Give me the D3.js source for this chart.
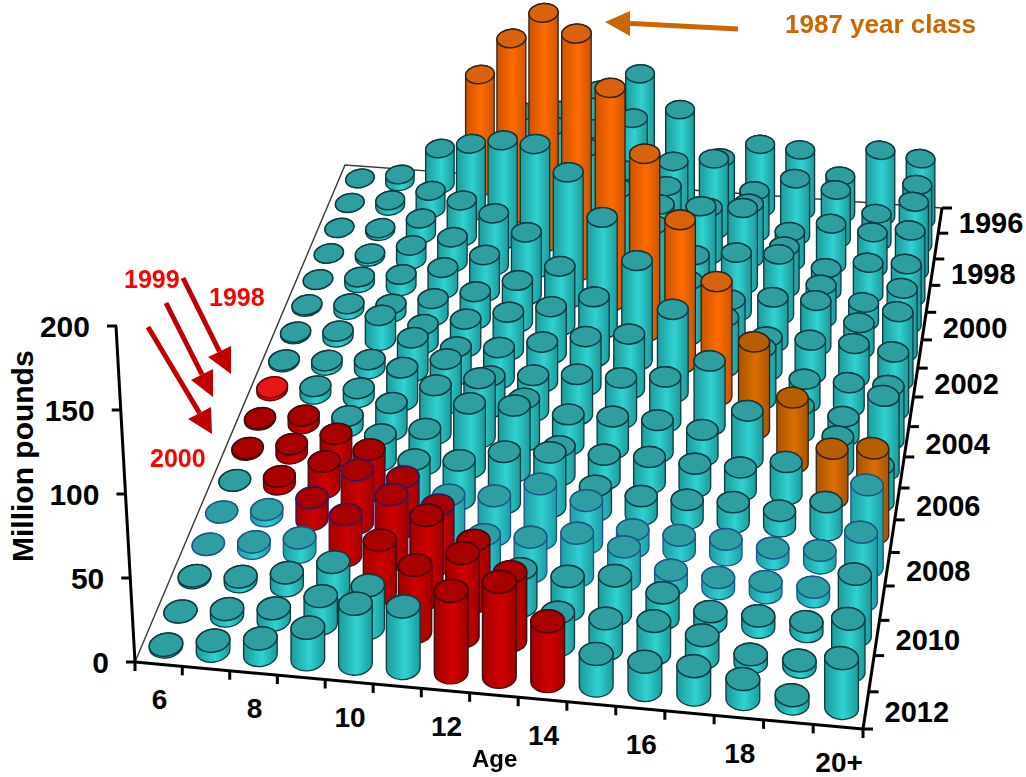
<!DOCTYPE html>
<html><head><meta charset="utf-8">
<script src="https://cdnjs.cloudflare.com/ajax/libs/d3/7.8.5/d3.min.js"></script>
<style>html,body{margin:0;padding:0;background:#fff}svg{display:block}text{font-family:"Liberation Sans",Arial,sans-serif;font-weight:700}</style>
</head><body><svg id="c" width="1026" height="777"></svg>
<script>
const ages=[6,7,8,9,10,11,12,13,14,15,16,17,18,19,20];
const years=d3.range(1996,2013);
const ageTicks=[6,8,10,12,14,16,18,20];
const yearTicks=[1996,1998,2000,2002,2004,2006,2008,2010,2012];
const valueTicks=[0,50,100,150,200];
const v1996=[0,5,26,82,57,60,77,91,67,34,46,44,27,48,44];
const v1997=[0,4,13,49,127,66,66,76,47,51,30,41,35,20,43];
const v1998=[0,2,11,26,71,164,70,56,47,34,39,21,29,25,49];
const v1999=[0,2,10,18,37,88,168,61,52,53,54,29,16,22,47];
const v2000=[0,4,8,15,26,44,88,149,56,37,41,42,23,13,42];
const v2001=[1,4,6,12,19,29,41,77,123,38,27,31,31,18,44];
const v2002=[1,4,17,13,19,26,32,41,68,98,34,23,23,23,47];
const v2003=[1,3,6,23,19,21,27,33,37,56,77,35,16,16,39];
const v2004=[2,5,6,22,30,21,24,27,27,30,43,58,18,13,36];
const v2005=[1,5,7,18,32,39,28,20,21,21,17,32,43,20,49];
const v2006=[1,6,15,17,23,42,43,19,16,17,15,15,21,32,24];
const v2007=[0,5,17,27,23,25,33,35,16,12,12,13,10,18,55];
const v2008=[0,4,14,34,32,23,25,35,27,11,10,10,7,8,52];
const v2009=[0,4,9,26,41,37,21,22,27,21,9,7,7,6,43];
const v2010=[1,3,8,17,33,51,38,23,21,24,16,7,7,6,38];
const v2011=[0,4,7,17,26,41,51,42,20,19,20,14,5,4,32];
const v2012=[1,6,10,19,36,37,49,57,36,19,17,17,12,5,30];
const table=[v1996,v1997,v1998,v1999,v2000,v2001,v2002,v2003,v2004,v2005,v2006,v2007,v2008,v2009,v2010,v2011,v2012];
const goldClass=1987, redClasses=[1998,1999,2000], blueYears=[2008,2009];

const svg=d3.select('#c');
const defs=svg.append('defs');
defs.append('filter').attr('id','soft').append('feGaussianBlur').attr('stdDeviation',0.45);
const palettes={
 teal:{e:'#1d9a9b',m:'#31d2d2',top:'#2f9ea0',s:'#0e3a40'},
 tealB:{e:'#1f9ca2',m:'#31cfd2',top:'#2f9ea2',s:'#1b5488'},
 red:{e:'#a00000',m:'#cf0000',top:'#a80000',s:'#3a0a10'},
 redB:{e:'#a00000',m:'#cf0000',top:'#a80000',s:'#2a1a60'},
 bright:{e:'#c80000',m:'#ee0000',top:'#e81212',s:'#5a0a0a'},
 orange:{e:'#cc5400',m:'#ff6c00',top:'#d9620a',s:'#33231a'},
 amber:{e:'#a85400',m:'#dc6e00',top:'#b65f05',s:'#33231a'}
};
Object.entries(palettes).forEach(([k,p])=>{
 const g=defs.append('linearGradient').attr('id','g'+k).attr('x1',0).attr('x2',1).attr('y1',0).attr('y2',0);
 [[0,p.e],[.55,p.m],[1,p.e]].forEach(([o,c])=>g.append('stop').attr('offset',o).attr('stop-color',c));
});

// floor plane: corners, projective along the depth, near-uniform along the age axis
const BL=[345,165],BR=[942,208],FR=[863,729],FL=[135,662];
const H=(()=>{const [x0,y0]=BL,[x1,y1]=BR,[x2,y2]=FR,[x3,y3]=FL;
 const dx1=x1-x2,dx2=x3-x2,sx=x0-x1+x2-x3,dy1=y1-y2,dy2=y3-y2,sy=y0-y1+y2-y3;
 const det=dx1*dy2-dx2*dy1,g=(sx*dy2-dx2*sy)/det,h=(dx1*sy-sx*dy1)/det;
 return {a:x1-x0+g*x1,b:x3-x0+h*x3,c:x0,d:y1-y0+g*y1,e:y3-y0+h*y3,f:y0,g,h};})();
const W=(u,v)=>H.g*u+H.h*v+1;
const E=(u,v)=>{const w=W(u,v);return [(H.a*u+H.b*v+H.c)/w,(H.d*u+H.e*v+H.f)/w];};
const P=(u,v)=>{const l=E(0,v),r=E(1,v),e=E(u,v);
 return [(l[0]+(r[0]-l[0])*u)*(1-v)+e[0]*v+18*v*(1-v)*u*u*u,(l[1]+(r[1]-l[1])*u)*(1-v)+e[1]*v];};
const uScale=d3.scaleBand().domain(ages).range([0,1]);
const vScale=d3.scaleBand().domain(years).range([0,1]);
const hScale=d3.scaleLinear().domain([0,200]).range([0,335]);
const tiltScale=d3.scaleLinear().domain([0,1]).range([-11,6]);
const frontW=W(.5,1);

// floor
svg.append('path').attr('fill','none').attr('stroke','#3a3a3a').attr('stroke-width',1.4)
 .attr('d',d3.line()([FL,BL,BR]));
// axes
const axis=svg.append('g').attr('stroke','#000').attr('fill','none').attr('stroke-linecap','butt');
axis.append('path').attr('stroke-width',3).attr('d',d3.line()([FL,FR]));
axis.append('path').attr('stroke-width',3).attr('d',d3.line()([FR,BR]));
const zAxisTop=[116,326];
const zPt=t=>{const k=hScale(t)/335;return [FL[0]+(zAxisTop[0]-FL[0])*k,FL[1]+(zAxisTop[1]-FL[1])*k];};
axis.append('path').attr('stroke-width',3).attr('d',d3.line()([FL,zAxisTop]));
valueTicks.forEach(t=>{const [x,y]=zPt(t);
 axis.append('path').attr('stroke-width',3).attr('d',d3.line()([[x-9,y],[x+1,y]]));
 svg.append('text').attr('x',x-26).attr('y',y+11).attr('text-anchor','end').attr('font-size',30).text(t);
});
d3.range(ages.length+1).forEach(i=>{const [x,y]=P(i/ages.length,1);
 axis.append('path').attr('stroke-width',3).attr('d',d3.line()([[x,y],[x,y+9]]));});
const rEdge=t=>[FR[0]+(BR[0]-FR[0])*t,FR[1]+(BR[1]-FR[1])*t];
d3.range(years.length+1).forEach(j=>{const py=E(1,j/years.length)[1];
 const [x,y]=rEdge((FR[1]-py)/(FR[1]-BR[1]));
 axis.append('path').attr('stroke-width',3).attr('d',d3.line()([[x,y],[x+10,y]]));});
ageTicks.forEach(a=>{const [x,y]=P(uScale(a)+uScale.bandwidth()/2,1);
 svg.append('text').attr('x',x+1).attr('y',y+45).attr('text-anchor','middle').attr('font-size',28).text(a===20?'20+':a);});
yearTicks.forEach(yr=>{const py=E(1,vScale(yr)+vScale.bandwidth()/2)[1];
 const [x]=rEdge((FR[1]-py)/(FR[1]-BR[1]));
 svg.append('text').attr('x',x+51).attr('y',py+12).attr('text-anchor','middle').attr('font-size',29).text(yr);});

// bars
const cells=[];
years.forEach((yr,j)=>ages.forEach((a,i)=>{
 const u=uScale(a)+uScale.bandwidth()/2,v=vScale(yr)+vScale.bandwidth()/2,cls=yr-a;
 let k=blueYears.includes(yr)?'tealB':'teal';
 if(redClasses.includes(cls)) k=(yr===2004&&a===6)?'bright':(blueYears.includes(yr)?'redB':'red');
 if(cls===goldClass) k=a>=17?'amber':'orange';
 cells.push({yr,a,u,v,val:table[j][i],k});
}));
const path=d=>{
 const [x,yb]=P(d.u,d.v),s=frontW/W(.5,d.v);
 const ra=17*Math.pow(s,.85),rb=11.6*Math.pow(s,1.2),th=tiltScale(d.u)*Math.PI/180;
 const h=hScale(d.val)*s,yt=yb-h;
 const X=Math.sqrt(ra*ra*Math.cos(th)**2+rb*rb*Math.sin(th)**2),Y=(ra*ra-rb*rb)*Math.sin(th)*Math.cos(th)/X;
 const deg=th*180/Math.PI;
 d.x=x;d.yt=yt;d.ra=ra;d.rb=rb;d.deg=deg;
 return `M${x-X},${yt-Y}L${x-X},${yb-Y}A${ra},${rb} ${deg} 0 0 ${x+X},${yb+Y}L${x+X},${yt+Y}A${ra},${rb} ${deg} 0 0 ${x-X},${yt-Y}Z`;
};
const bars=svg.append('g').attr('filter','url(#soft)').selectAll('g').data(cells).join('g');
bars.append('path').attr('d',path).attr('fill',d=>`url(#g${d.k})`).attr('stroke',d=>palettes[d.k].s).attr('stroke-width',1.3);
bars.append('ellipse').attr('cx',d=>d.x).attr('cy',d=>d.yt).attr('rx',d=>d.ra).attr('ry',d=>d.rb)
 .attr('transform',d=>`rotate(${d.deg} ${d.x} ${d.yt})`)
 .attr('fill',d=>palettes[d.k].top).attr('stroke',d=>palettes[d.k].s).attr('stroke-width',1.5);

// annotations
const arrows=[
 {from:[183,278],tip:[231,374],w1:[208,357],w2:[231,346],c:'#c00000'},
 {from:[166,303],tip:[213,397],w1:[191,380],w2:[213,369],c:'#c00000'},
 {from:[148,327],tip:[212,434],w1:[188,419],w2:[211,407],c:'#c00000'},
 {from:[738,29],tip:[605,22],w1:[630,11],w2:[630,36],c:'#cc6600'}];
arrows.forEach(a=>{
 const mid=[(a.w1[0]+a.w2[0])/2,(a.w1[1]+a.w2[1])/2];
 svg.append('path').attr('d',d3.line()([a.from,mid])).attr('stroke',a.c).attr('stroke-width',5).attr('fill','none');
 svg.append('path').attr('d',d3.line()([a.tip,a.w1,a.w2])+'Z').attr('fill',a.c);
});
const notes=[['1999',124,288,'#ff0000',25],['1998',209,306,'#ff0000',25],['2000',150,467,'#ff0000',25],['1987 year class',785,33,'#cc6600',26]];
notes.forEach(([t,x,y,c,f])=>svg.append('text').attr('x',x).attr('y',y).attr('fill',c).attr('font-size',f).text(t));
svg.append('text').attr('x',472).attr('y',767).attr('font-size',24).text('Age');
svg.append('text').attr('transform','translate(33,562) rotate(-90)').attr('font-size',30).text('Million pounds');
</script></body></html>
